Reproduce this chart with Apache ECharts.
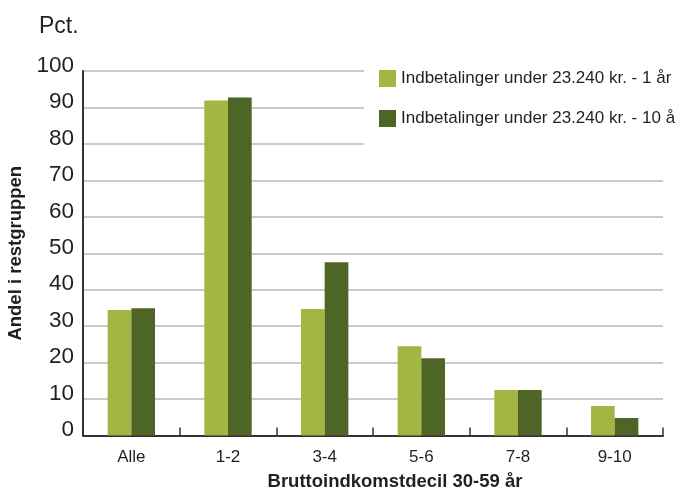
<!DOCTYPE html>
<html>
<head>
<meta charset="utf-8">
<script src="https://cdn.jsdelivr.net/npm/echarts@6/dist/echarts.min.js"></script>
<style>
  html, body { margin: 0; padding: 0; background: #fff; }
  #chart { width: 676px; height: 491px; }
</style>
</head>
<body>
<div id="chart"></div>
<script>
// Income decile groups (age 30-59)
var categories = ['Alle', '1-2', '3-4', '5-6', '7-8', '9-10'];
// Share of the rest group, percent
var seriesNames = ['Indbetalinger under 23.240 kr. - 1 år', 'Indbetalinger under 23.240 kr. - 10 år'];
var oneYear = [34.4, 91.9, 34.7, 24.5, 12.5, 8.1];
var tenYears = [34.9, 92.7, 47.5, 21.2, 12.5, 4.8];

var font = '"Liberation Sans", Arial, sans-serif';
var chart = echarts.init(document.getElementById('chart'), null, { renderer: 'canvas' });

chart.setOption({
  backgroundColor: '#ffffff',
  animation: false,
  textStyle: { fontFamily: font, color: '#231f20' },
  grid: {
    left: 83, right: 13, top: 71, bottom: 55.5,
    containLabel: false,
    outerBoundsMode: 'none'
  },
  title: {
    text: 'Pct.',
    left: 39, top: 15,
    padding: 0,
    textStyle: { fontFamily: font, fontSize: 23, fontWeight: 'normal', color: '#231f20' }
  },
  legend: {
    orient: 'vertical',
    left: 364, top: 69,
    padding: [1, 12, 25, 15],
    backgroundColor: '#ffffff',
    itemWidth: 17, itemHeight: 17,
    itemGap: 23,
    icon: 'rect',
    z: 10,
    textStyle: { fontFamily: font, fontSize: 17, color: '#231f20' },
    data: seriesNames
  },
  xAxis: {
    type: 'category',
    data: categories,
    name: 'Bruttoindkomstdecil 30-59 år',
    nameLocation: 'middle',
    nameGap: 37,
    nameTextStyle: { fontFamily: font, fontSize: 18.5, fontWeight: 'bold', color: '#231f20', padding: [0, 0, 0, 44] },
    axisLine: { lineStyle: { color: '#333', width: 2 } },
    axisTick: { show: true, inside: true, length: 8, lineStyle: { color: '#333', width: 1.5 } },
    axisLabel: { fontFamily: font, fontSize: 17, color: '#231f20', margin: 13 }
  },
  yAxis: {
    type: 'value',
    min: 0, max: 100, interval: 10,
    name: 'Andel i restgruppen',
    nameLocation: 'middle',
    nameGap: 58,
    nameRotate: 90,
    nameTextStyle: { fontFamily: font, fontSize: 18.5, fontWeight: 'bold', color: '#231f20' },
    axisLine: { show: true, lineStyle: { color: '#333', width: 2 } },
    axisTick: { show: false },
    axisLabel: {
      fontFamily: font, fontSize: 22.5, color: '#231f20', margin: 9,
      verticalAlign: 'bottom', lineHeight: 11
    },
    splitLine: { lineStyle: { color: '#b8b8b8', width: 1.5 } }
  },
  series: [
    {
      name: seriesNames[0],
      type: 'bar',
      data: oneYear,
      barGap: '0%',
      barCategoryGap: '51%',
      itemStyle: { color: '#a3b543' }
    },
    {
      name: seriesNames[1],
      type: 'bar',
      data: tenYears,
      itemStyle: { color: '#4f6526' }
    }
  ]
});
</script>
</body>
</html>
